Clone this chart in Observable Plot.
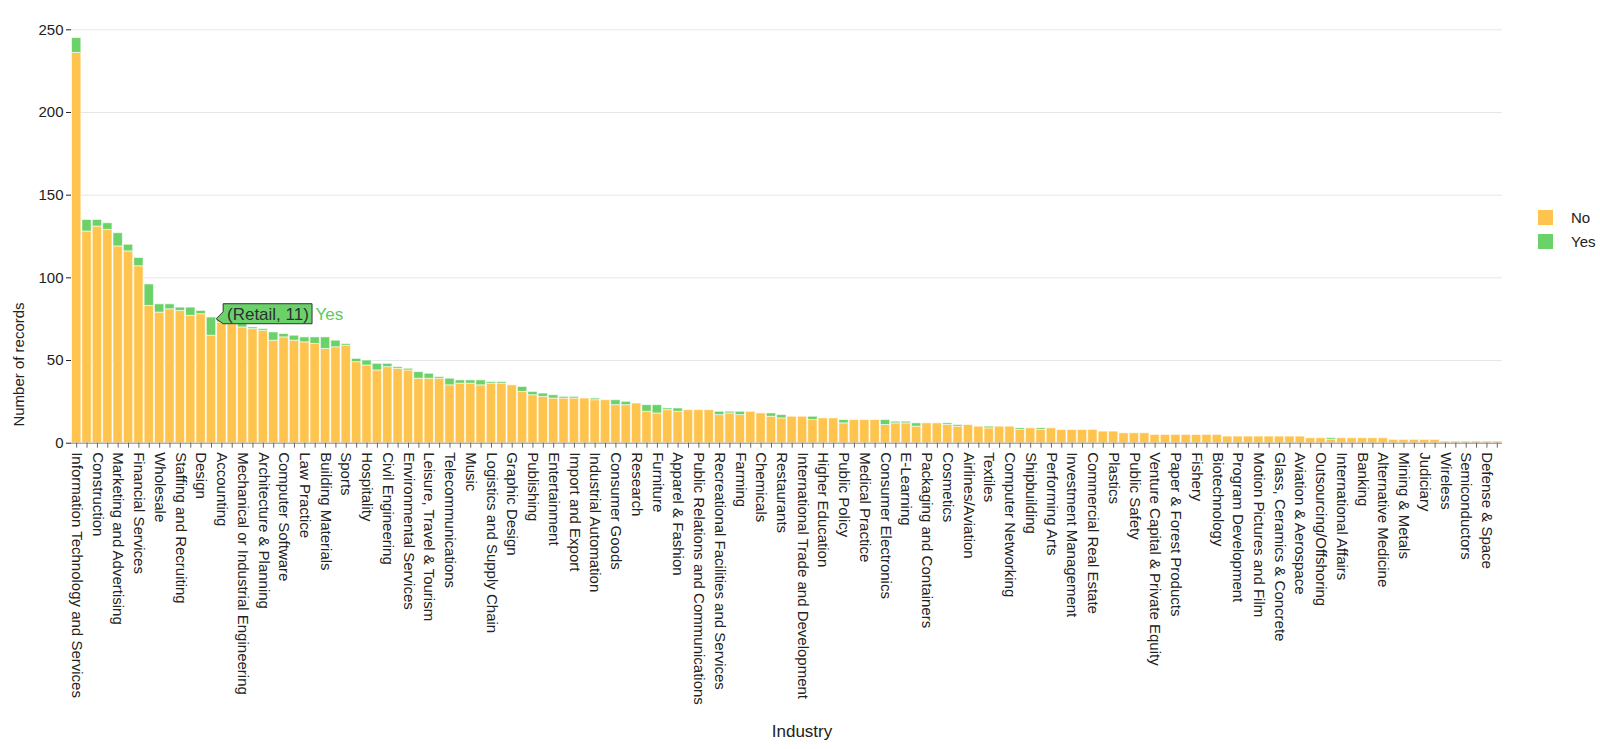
<!DOCTYPE html>
<html><head><meta charset="utf-8">
<script src="https://cdn.jsdelivr.net/npm/d3@7"></script>
<script src="https://cdn.jsdelivr.net/npm/@observablehq/plot@0.6"></script>
<style>
body{margin:0;background:#fff;font-family:"Liberation Sans",Arial,Helvetica,sans-serif;}
#wrap{position:relative;width:1600px;height:749px;overflow:hidden}
#legend{position:absolute;left:1538px;top:210px;font-size:15px;color:#222}
.item{display:flex;align-items:center;height:15px;margin-bottom:9px}
.sw{width:15px;height:15px;margin-right:18px}
.item span{font-size:15px;line-height:15px}
</style></head><body><div id="wrap"><div id="legend"></div></div>
<script>
const industries = [
"Information Technology and Services","Real Estate","Construction","Automotive","Marketing and Advertising",
"Electrical/Electronic Manufacturing","Financial Services","Internet","Wholesale","Machinery",
"Staffing and Recruiting","Hospital & Health Care","Design","Retail","Accounting",
"Management Consulting","Mechanical or Industrial Engineering","Food & Beverages","Architecture & Planning","Education Management",
"Computer Software","Oil & Energy","Law Practice","Health, Wellness and Fitness","Building Materials",
"Renewables & Environment","Sports","Printing","Hospitality","Information Services",
"Civil Engineering","Events Services","Environmental Services","Human Resources","Leisure, Travel & Tourism",
"Media Production","Telecommunications","Food Production","Music","Consumer Services",
"Logistics and Supply Chain","Online Media","Graphic Design","Transportation/Trucking/Railroad","Publishing",
"Photography","Entertainment","Non-Profit Organization Management","Import and Export","Pharmaceuticals",
"Industrial Automation","Insurance","Consumer Goods","Medical Devices","Research",
"Luxury Goods & Jewelry","Furniture","Arts and Crafts","Apparel & Fashion","Sporting Goods",
"Public Relations and Communications","Government Administration","Recreational Facilities and Services","Primary/Secondary Education","Farming",
"Writing and Editing","Chemicals","Wine and Spirits","Restaurants","Computer Hardware",
"International Trade and Development","Supermarkets","Higher Education","Utilities","Public Policy",
"Computer Games","Medical Practice","Security and Investigations","Consumer Electronics","Broadcast Media",
"E-Learning","Fine Art","Packaging and Containers","Translation and Localization","Cosmetics",
"Warehousing","Airlines/Aviation","Professional Training & Coaching","Textiles","Package/Freight Delivery",
"Computer Networking","Maritime","Shipbuilding","Veterinary","Performing Arts",
"Capital Markets","Investment Management","Philanthropy","Commercial Real Estate","Business Supplies and Equipment",
"Plastics","Civic & Social Organization","Public Safety","Animation","Venture Capital & Private Equity",
"Dairy","Paper & Forest Products","Ranching","Fishery","Computer & Network Security",
"Biotechnology","Law Enforcement","Program Development","Gambling & Casinos","Motion Pictures and Film",
"Government Relations","Glass, Ceramics & Concrete","Newspapers","Aviation & Aerospace","Religious Institutions",
"Outsourcing/Offshoring","Think Tanks","International Affairs","Nanotechnology","Banking",
"Legislative Office","Alternative Medicine","Libraries","Mining & Metals","Tobacco",
"Judiciary","Fund-Raising","Wireless","Political Organization","Semiconductors",
"Military","Defense & Space","Alternative Dispute Resolution"
];
const noCounts = [
236,128,131,129,119,116,107,83,79,81,
80,77,78,65,73,72,70,69,68,62,
64,62,61,60,57,58,59,49,47,44,
46,45,44,39,39,39,35,36,36,35,
36,36,35,31,29,28,27,27,27,27,
26,26,23,23,24,19,18,20,19,20,
20,20,17,18,17,19,18,16,15,16,
16,14,15,15,12,14,14,14,11,12,
12,10,12,12,11,10,11,10,9,10,
10,8,9,8,9,8,8,8,8,7,
7,6,6,6,5,5,5,5,5,5,
5,4,4,4,4,4,4,4,4,3,
3,2,3,3,3,3,3,2,2,2,
2,2,1,1,1,1,1,1
];
const yesCounts = [
9,7,4,4,8,4,5,13,5,3,
2,5,2,11,2,1,2,1,1,5,
2,3,3,4,7,4,1,2,3,4,
2,1,1,4,3,1,4,2,2,3,
1,1,0,3,2,2,2,1,1,0,
1,0,3,2,0,4,5,1,2,0,
0,0,2,1,2,0,0,2,2,0,
0,2,0,0,2,0,0,0,3,1,
1,2,0,0,1,1,0,0,1,0,
0,1,0,1,0,0,0,0,0,0,
0,0,0,0,0,0,0,0,0,0,
0,0,0,0,0,0,0,0,0,0,
0,1,0,0,0,0,0,0,0,0,
0,0,0,0,0,0,0,0
];
const tickLabels = [
"Information Technology and Services","Construction","Marketing and Advertising","Financial Services","Wholesale",
"Staffing and Recruiting","Design","Accounting","Mechanical or Industrial Engineering","Architecture & Planning",
"Computer Software","Law Practice","Building Materials","Sports","Hospitality","Civil Engineering",
"Environmental Services","Leisure, Travel & Tourism","Telecommunications","Music","Logistics and Supply Chain",
"Graphic Design","Publishing","Entertainment","Import and Export","Industrial Automation","Consumer Goods",
"Research","Furniture","Apparel & Fashion","Public Relations and Communications","Recreational Facilities and Services",
"Farming","Chemicals","Restaurants","International Trade and Development","Higher Education","Public Policy",
"Medical Practice","Consumer Electronics","E-Learning","Packaging and Containers","Cosmetics","Airlines/Aviation",
"Textiles","Computer Networking","Shipbuilding","Performing Arts","Investment Management","Commercial Real Estate",
"Plastics","Public Safety","Venture Capital & Private Equity","Paper & Forest Products","Fishery","Biotechnology",
"Program Development","Motion Pictures and Film","Glass, Ceramics & Concrete","Aviation & Aerospace",
"Outsourcing/Offshoring","International Affairs","Banking","Alternative Medicine","Mining & Metals","Judiciary",
"Wireless","Semiconductors","Defense & Space"
];
const responses = ["No","Yes"];
const colors = ["#ffc44d","#6bd26a"];
const yTicks = [0,50,100,150,200,250];
const xTitle = "Industry";
const yTitle = "Number of records";
const tooltipPoint = [{industry:"Retail", value:78, label:"(Retail, 11)", series:"Yes"}];

const data = industries.flatMap((ind,i)=>[
  {industry:ind, response:"No", count:noCounts[i]},
  {industry:ind, response:"Yes", count:yesCounts[i]}
]);

const font = '"Liberation Sans",Arial,Helvetica,sans-serif';
const SVGNS = "http://www.w3.org/2000/svg";

function tooltipBox(index, scales, values, dimensions, context, next) {
  const g = next(index, scales, values, dimensions, context);
  const d = tooltipPoint[0];
  const xt = scales.x(d.industry) + scales.x.bandwidth() + 0.5;
  const yc = scales.y(d.value);
  const c = document.createElement("canvas").getContext("2d");
  c.font = "17px " + font;
  const w = c.measureText(d.label).width + 7;
  const p = 7, h = 20;
  const top = yc - h / 2, bot = yc + h / 2;
  const wrapper = document.createElementNS(SVGNS, "g");
  const path = document.createElementNS(SVGNS, "path");
  path.setAttribute("d", `M${xt},${yc + 5}L${xt + p},${yc - 2}V${top}H${xt + p + w}V${bot}H${xt + p}V${yc + 10}Z`);
  path.setAttribute("fill", colors[1]);
  path.setAttribute("stroke", "#333");
  path.setAttribute("stroke-width", "1");
  wrapper.appendChild(path);
  wrapper.appendChild(g);
  return wrapper;
}

const chart = Plot.plot({
  width:1600, height:749,
  marginLeft:71, marginRight:98, marginTop:29.3, marginBottom:306.3,
  style:{fontFamily:font, fontSize:"15px", color:"#222", background:"#fff"},
  x:{domain:industries, paddingInner:0.1, paddingOuter:0.05, axis:null},
  y:{domain:[0,250], axis:null},
  color:{domain:responses, range:colors},
  marks:[
    Plot.gridY(yTicks,{stroke:"#e6e6e6", strokeOpacity:1}),
    Plot.barY(data,{x:"industry", y:"count", fill:"response", order:responses, stroke:"white", strokeWidth:1, strokeOpacity:0.6}),
    Plot.ruleY([0],{stroke:"#888"}),
    Plot.ruleX(industries,{x:d=>d, y1:0, y2:-3, stroke:"#666"}),
    Plot.axisY({ticks:yTicks, tickSize:5, tickPadding:3, label:null, fontSize:15}),
    Plot.axisX({ticks:tickLabels, tickSize:0, tickPadding:9, tickRotate:90, label:null, fontSize:15}),
    Plot.text([yTitle],{text:d=>d, frameAnchor:"left", rotate:-90, dx:-52.6, dy:128, textAnchor:"middle", lineAnchor:"middle", fontSize:15, fill:"#222"}),
    Plot.text([xTitle],{text:d=>d, frameAnchor:"bottom", dx:15, dy:288, textAnchor:"middle", lineAnchor:"middle", fontSize:17, fill:"#222"}),
    Plot.text(tooltipPoint,{x:"industry", y:"value", text:"label", dx:15.5, textAnchor:"start", lineAnchor:"middle", fill:"#2e2e36", fontSize:17, render:tooltipBox}),
    Plot.text(tooltipPoint,{x:"industry", y:"value", text:"series", dx:104, textAnchor:"start", lineAnchor:"middle", fill:"#5ec95c", fontSize:17})
  ]
});
document.getElementById("wrap").prepend(chart);
chart.querySelectorAll("text, tspan").forEach(t=>{ if(!t.textContent.trim()) t.remove(); });
const leg = document.getElementById("legend");
responses.forEach((r,i)=>{
  const it=document.createElement("div"); it.className="item";
  const sw=document.createElement("div"); sw.className="sw"; sw.style.background=colors[i];
  const t=document.createElement("span"); t.textContent=r;
  it.append(sw,t); leg.append(it);
});
</script></body></html>
